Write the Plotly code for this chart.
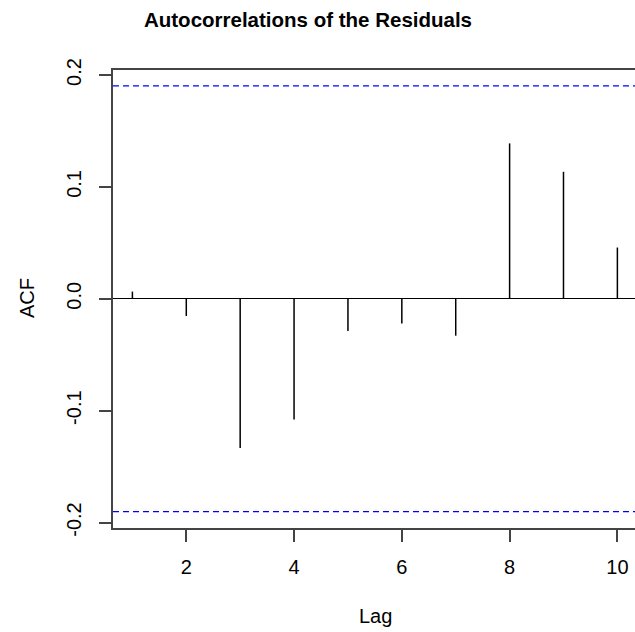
import plotly.graph_objects as go

lags = [1, 2, 3, 4, 5, 6, 7, 8, 9, 10]
acf_values = [0.0064, -0.0154, -0.1335, -0.108, -0.0288, -0.0222, -0.033, 0.1389, 0.1135, 0.0458]
conf_limit = 0.1903
x_ticks = [2, 4, 6, 8, 10]
y_ticks = [-0.2, -0.1, 0.0, 0.1, 0.2]
y_tick_labels = ["-0.2", "-0.1", "0.0", "0.1", "0.2"]

W, H = 635, 632
L, R, T, B = 113, 0, 70, 104

xs, ys = [], []
for lag, v in zip(lags, acf_values):
    xs += [lag, lag, None]
    ys += [0, v, None]

fig = go.Figure()
fig.add_trace(go.Scatter(x=xs, y=ys, mode="lines",
                         line=dict(color="black", width=1.5),
                         hoverinfo="skip", showlegend=False))

for c in (conf_limit, -conf_limit):
    fig.add_shape(type="line", xref="paper", yref="y", x0=0, x1=1, y0=c, y1=c,
                  line=dict(color="#0000FF", width=1.2, dash="6px,4px"))

axis_color = "#444444"
font_family = "Liberation Sans, Arial, sans-serif"

fig.update_layout(
    width=W, height=H,
    margin=dict(l=L, r=R, t=T, b=B),
    paper_bgcolor="white", plot_bgcolor="white",
    font=dict(family=font_family, size=20, color="black"),
    title=dict(text="<b>Autocorrelations of the Residuals</b>",
               xref="container", yref="container",
               x=308 / W, y=1 - 20 / H, xanchor="center", yanchor="middle",
               font=dict(size=20.5, family=font_family, color="black")),
    xaxis=dict(range=[0.64, 10.327], tickvals=x_ticks, ticktext=[str(t) for t in x_ticks],
               showgrid=False, zeroline=False, showline=True, linecolor=axis_color,
               linewidth=1.5, mirror=True, ticks="outside", ticklen=12,
               tickwidth=1.5, tickcolor=axis_color, ticklabelstandoff=8,
               tickfont=dict(size=20)),
    yaxis=dict(range=[-0.2049, 0.2045], tickvals=y_ticks, ticktext=y_tick_labels,
               showgrid=False, zeroline=True, zerolinecolor="black", zerolinewidth=1.2,
               showline=True, linecolor=axis_color, linewidth=1.5,
               ticks="outside", ticklen=12, tickwidth=1.5, tickcolor=axis_color,
               tickangle=-90, ticklabelstandoff=10, tickfont=dict(size=20)),
    annotations=[
        dict(text="Lag", xref="paper", yref="paper", x=(375 - L) / (W - L - R),
             y=-(616 - (H - B)) / (H - T - B), xanchor="center", yanchor="middle",
             showarrow=False, font=dict(size=20)),
        dict(text="ACF", xref="paper", yref="paper", x=(27 - L) / (W - L - R),
             y=(H - B - 298) / (H - T - B), xanchor="center", yanchor="middle",
             textangle=-90, showarrow=False, font=dict(size=20)),
    ],
)

fig.write_html("out.html")
